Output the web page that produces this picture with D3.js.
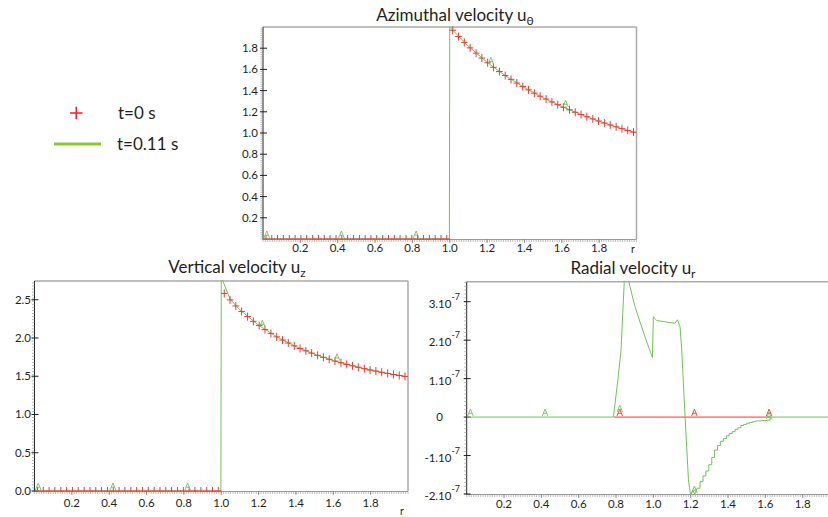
<!DOCTYPE html>
<html><head><meta charset="utf-8">
<script src="https://cdn.jsdelivr.net/npm/d3@7"></script>
<style>body{margin:0;background:#fff} text{font-family:Lato,"Open Sans",sans-serif;fill:#231f20}</style>
</head><body><svg id="c" width="828" height="517"></svg>
<script>
// ---------- DATA ----------
const gridR = [0.016,0.047,0.078,0.109,0.141,0.172,0.203,0.234,0.266,0.297,0.328,0.359,0.391,0.422,0.453,0.484,
  0.516,0.547,0.578,0.609,0.641,0.672,0.703,0.734,0.766,0.797,0.828,0.859,0.891,0.922,0.953,0.984,
  1.016,1.047,1.078,1.109,1.141,1.172,1.203,1.234,1.266,1.297,1.328,1.359,1.391,1.422,1.453,1.484,
  1.516,1.547,1.578,1.609,1.641,1.672,1.703,1.734,1.766,1.797,1.828,1.859,1.891,1.922,1.953,1.984];
const uThetaT0 = [0,0,0,0,0,0,0,0,0,0,0,0,0,0,0,0,0,0,0,0,0,0,0,0,0,0,0,0,0,0,0,0,
  1.969,1.910,1.855,1.803,1.753,1.707,1.662,1.620,1.580,1.542,1.506,1.471,1.438,1.407,1.376,1.347,
  1.320,1.293,1.267,1.243,1.219,1.196,1.174,1.153,1.133,1.113,1.094,1.076,1.058,1.041,1.024,1.008];
const uzT0 = [0,0,0,0,0,0,0,0,0,0,0,0,0,0,0,0,0,0,0,0,0,0,0,0,0,0,0,0,0,0,0,0,
  2.583,2.498,2.419,2.347,2.279,2.218,2.162,2.110,2.060,2.015,1.973,1.934,1.897,1.863,1.832,1.802,
  1.773,1.747,1.722,1.699,1.676,1.655,1.636,1.617,1.599,1.582,1.567,1.552,1.537,1.523,1.510,1.498];

const uThetaT1R = [0,0.998,1.0,1.016,1.1,1.2,1.3,1.4,1.5,1.6,1.7,1.8,1.9,2.0];
const uThetaT1V = [0,0,2.0,1.97,1.818,1.667,1.538,1.429,1.333,1.25,1.176,1.111,1.053,1.0];
const uzT1R = [0,0.998,1.0,1.047,1.1,1.2,1.3,1.4,1.5,1.6,1.7,1.8,1.9,2.0];
const uzT1V = [0,0,2.8,2.51,2.367,2.167,2.011,1.887,1.787,1.705,1.638,1.581,1.533,1.492];

// radial velocity, units of 1e-7
const urT0R = [0.79,1.625];
const urT0V = [0,0];
const urT1R = [0,0.786,0.81,0.827,0.845,0.865,0.875,0.9,0.93,0.96,0.985,0.995,1.0,1.008,1.018,1.116,1.129,1.143,1.152,1.170,1.188,1.2,1.211,1.222,1.234];
const urT1V = [0,0,0.97,1.75,3.6,3.6,3.39,2.9,2.45,2.02,1.68,1.55,2.61,2.56,2.51,2.44,2.53,2.35,1.75,0,-1.63,-2.05,-1.9,-2.0,-1.85];
const urStepR = [1.234,1.250,1.266,1.281,1.297,1.313,1.328,1.344,1.359,1.375,1.391,1.406,1.422,1.438,1.453,1.469,
  1.484,1.500,1.516,1.531,1.547,1.563,1.578,1.594,1.609,1.625];
const urStepV = [-1.85,-1.68,-1.53,-1.40,-1.24,-1.05,-0.86,-0.74,-0.63,-0.56,-0.49,-0.43,-0.38,-0.32,-0.28,-0.22,
  -0.19,-0.16,-0.14,-0.12,-0.10,-0.10,-0.09,-0.09,-0.08,-0.08];
const urTailR = [1.625,1.627,2.0];
const urTailV = [-0.08,0,0];

const markerR = [0.02,0.42,0.82,1.22,1.62];
const uThetaMarkT1 = [0,0,0,1.639,1.235];
const uzMarkT1 = [0,0,0,2.13,1.69];
const urMarkT0R = [0.82,1.22,1.62];
const urMarkT0 = [0,0,0];
const urMarkT1 = [0,0,0.1,-2.0,-0.08];

const xTicks = [0.2,0.4,0.6,0.8,1.0,1.2,1.4,1.6,1.8];
const thetaYTicks = [0.2,0.4,0.6,0.8,1.0,1.2,1.4,1.6,1.8];
const uzYTicks = [0,0.5,1.0,1.5,2.0,2.5];
const urYTicks = [-2,-1,0,1,2,3];

const legendLabels = ["t=0 s","t=0.11 s"];

// ---------- DRAW ----------
const RED = "#ea3b33", GREEN = "#74c159";
const svg = d3.select("#c");
svg.append("rect").attr("width",828).attr("height",517).attr("fill","#fff");

let clipId = 0;
function panel(o){
  const g = svg.append("g");
  const x = d3.scaleLinear().domain([0,2]).range([o.x0,o.x1]);
  const y = d3.scaleLinear().domain(o.yDomain).range([o.y1,o.y0]);
  const id = "clip"+(clipId++);
  svg.append("clipPath").attr("id",id).append("rect")
    .attr("x",o.x0).attr("y",o.y0-1).attr("width",o.x1-o.x0).attr("height",o.y1-o.y0+2);
  g.append("line").attr("x1",o.x0).attr("x2",o.x1).attr("y1",o.y0).attr("y2",o.y0).attr("stroke","#aaa").attr("stroke-width",1.5);
  g.append("line").attr("x1",o.x1).attr("x2",o.x1).attr("y1",o.y0).attr("y2",o.y1).attr("stroke","#aaa").attr("stroke-width",1.5);
  g.append("line").attr("x1",o.x0).attr("x2",o.x1).attr("y1",o.y1+0.5).attr("y2",o.y1+0.5).attr("stroke","#999").attr("stroke-width",1);
  const xm = d3.range(0,2.0001,0.0125);
  g.selectAll(null).data(xm).join("line")
    .attr("x1",d=>x(d)).attr("x2",d=>x(d)).attr("y1",o.y1+0.5).attr("y2",o.y1+3)
    .attr("stroke","#a0a0a0").attr("stroke-width",0.7);
  g.selectAll(null).data(xTicks).join("line")
    .attr("x1",d=>x(d)).attr("x2",d=>x(d)).attr("y1",o.y1+0.5).attr("y2",o.y1+4)
    .attr("stroke","#777").attr("stroke-width",0.8);
  g.selectAll(null).data(xTicks).join("text")
    .attr("x",d=>x(d)).attr("y",o.xLabY).attr("text-anchor","middle").attr("font-size",11.5)
    .text(d=>d.toFixed(1));
  if(o.rLabel) g.append("text").attr("x",o.rLabel[0]).attr("y",o.rLabel[1]).attr("font-size",10.5).text("r");
  g.append("line").attr("x1",o.x0).attr("x2",o.x0).attr("y1",o.y0).attr("y2",o.y1+0.5).attr("stroke","#231f20").attr("stroke-width",1);
  const ym = d3.range(o.yDomain[0],o.yDomain[1],o.yMinor);
  g.selectAll(null).data(ym).join("line")
    .attr("x1",o.x0-2.5).attr("x2",o.x0).attr("y1",d=>y(d)).attr("y2",d=>y(d))
    .attr("stroke","#999").attr("stroke-width",0.7);
  g.selectAll(null).data(o.yTicks).join("line")
    .attr("x1",o.x0-3).attr("x2",o.x0+4).attr("y1",d=>y(d)).attr("y2",d=>y(d))
    .attr("stroke","#231f20").attr("stroke-width",1);
  o.yLabel(g,y);
  const t = g.append("text").attr("x",o.title[0]).attr("y",o.title[1]).attr("text-anchor","middle").attr("font-size",17);
  t.append("tspan").text(o.title[2]);
  t.append("tspan").attr("font-size",12).attr("dy",4).text(o.title[3]);
  const plot = g.append("g").attr("clip-path",`url(#${id})`);
  return {x,y,plot,g};
}

const line = (x,y,curve)=>d3.line().x(d=>x(d[0])).y(d=>y(d[1])).curve(curve||d3.curveLinear);
const zip = (a,b)=>a.map((v,i)=>[v,b[i]]);

function pluses(p,rs,vs){
  p.plot.selectAll(null).data(zip(rs,vs)).join("path")
    .attr("d",d=>{const cx=p.x(d[0]),cy=p.y(d[1]);return `M${cx-3.3},${cy}H${cx+3.3}M${cx},${cy-4}V${cy+4}`;})
    .attr("stroke",RED).attr("stroke-width",1).attr("fill","none");
}
function carets(p,rs,vs,color){
  p.g.selectAll(null).data(zip(rs,vs)).join("path")
    .attr("d",d=>{const cx=p.x(d[0]),cy=p.y(d[1])-1;return `M${cx-2.8},${cy}L${cx},${cy-7}L${cx+2.8},${cy}M${cx-1.7},${cy-2.8}H${cx+1.7}`;})
    .attr("stroke",color).attr("stroke-width",0.9).attr("fill","none");
}
function path(p,rs,vs,color,curve){
  p.plot.append("path").attr("d",line(p.x,p.y,curve)(zip(rs,vs))).attr("fill","none").attr("stroke",color).attr("stroke-width",1);
}

// Top panel: azimuthal
const pT = panel({x0:263,x1:636.5,y0:27,y1:239,yDomain:[0,2],yMinor:0.02,yTicks:thetaYTicks,
  xLabY:252,rLabel:[631,253],title:[455,21,"Azimuthal velocity u","θ"],
  yLabel:(g,y)=>g.selectAll(null).data(thetaYTicks).join("text").attr("x",258).attr("y",d=>y(d)+4)
     .attr("text-anchor","end").attr("font-size",11.5).text(d=>d.toFixed(1))});
path(pT,uThetaT1R,uThetaT1V,GREEN);
pluses(pT,gridR,uThetaT0);
carets(pT,markerR,uThetaMarkT1,GREEN);

// Bottom-left: vertical
const pZ = panel({x0:34.5,x1:408,y0:281,y1:491,yDomain:[0,2.745],yMinor:0.04,yTicks:uzYTicks,
  xLabY:507,rLabel:[400,515],title:[237,273,"Vertical velocity u","z"],
  yLabel:(g,y)=>g.selectAll(null).data(uzYTicks).join("text").attr("x",31).attr("y",d=>y(d)+4)
     .attr("text-anchor","end").attr("font-size",11.5).text(d=>d.toFixed(1))});
path(pZ,uzT1R,uzT1V,GREEN);
pluses(pZ,gridR,uzT0);
carets(pZ,markerR,uzMarkT1,GREEN);

// Bottom-right: radial
const pR = panel({x0:466.7,x1:840,y0:281.7,y1:494,yDomain:[-2,3.52],yMinor:0.1,yTicks:urYTicks,
  xLabY:508,rLabel:null,title:[633,274,"Radial velocity u","r"],
  yLabel:(g,y)=>{
    const tx = g.selectAll(null).data(urYTicks).join("text")
      .attr("x",d=>d===0?443:460).attr("y",d=>y(d)+(d===0?4:6)).attr("text-anchor","end").attr("font-size",11.5);
    tx.each(function(d){
      const s=d3.select(this);
      if(d===0){s.text("0");return;}
      s.append("tspan").text(d+".10");
      s.append("tspan").attr("font-size",9).attr("dy",-8).text("-7");
    });
  }});
path(pR,[0,0.786],[0,0],GREEN);
path(pR,urT0R,urT0V,RED);
carets(pR,urMarkT0R,urMarkT0,RED);
path(pR,urT1R.slice(1),urT1V.slice(1),GREEN);
path(pR,urStepR,urStepV,GREEN,d3.curveStepAfter);
path(pR,urTailR,urTailV,GREEN);
carets(pR,markerR,urMarkT1,GREEN);

// Legend
const lg = svg.append("g");
lg.append("path").attr("d","M70,113H82.5M76.25,106.7V119.3").attr("stroke","#e8262b").attr("stroke-width",1.6);
lg.append("text").attr("x",118).attr("y",119).attr("font-size",17).text(legendLabels[0]);
lg.append("line").attr("x1",54).attr("x2",101).attr("y1",144).attr("y2",144).attr("stroke","#8cc63f").attr("stroke-width",3);
lg.append("text").attr("x",117).attr("y",150).attr("font-size",17).text(legendLabels[1]);
</script></body></html>
